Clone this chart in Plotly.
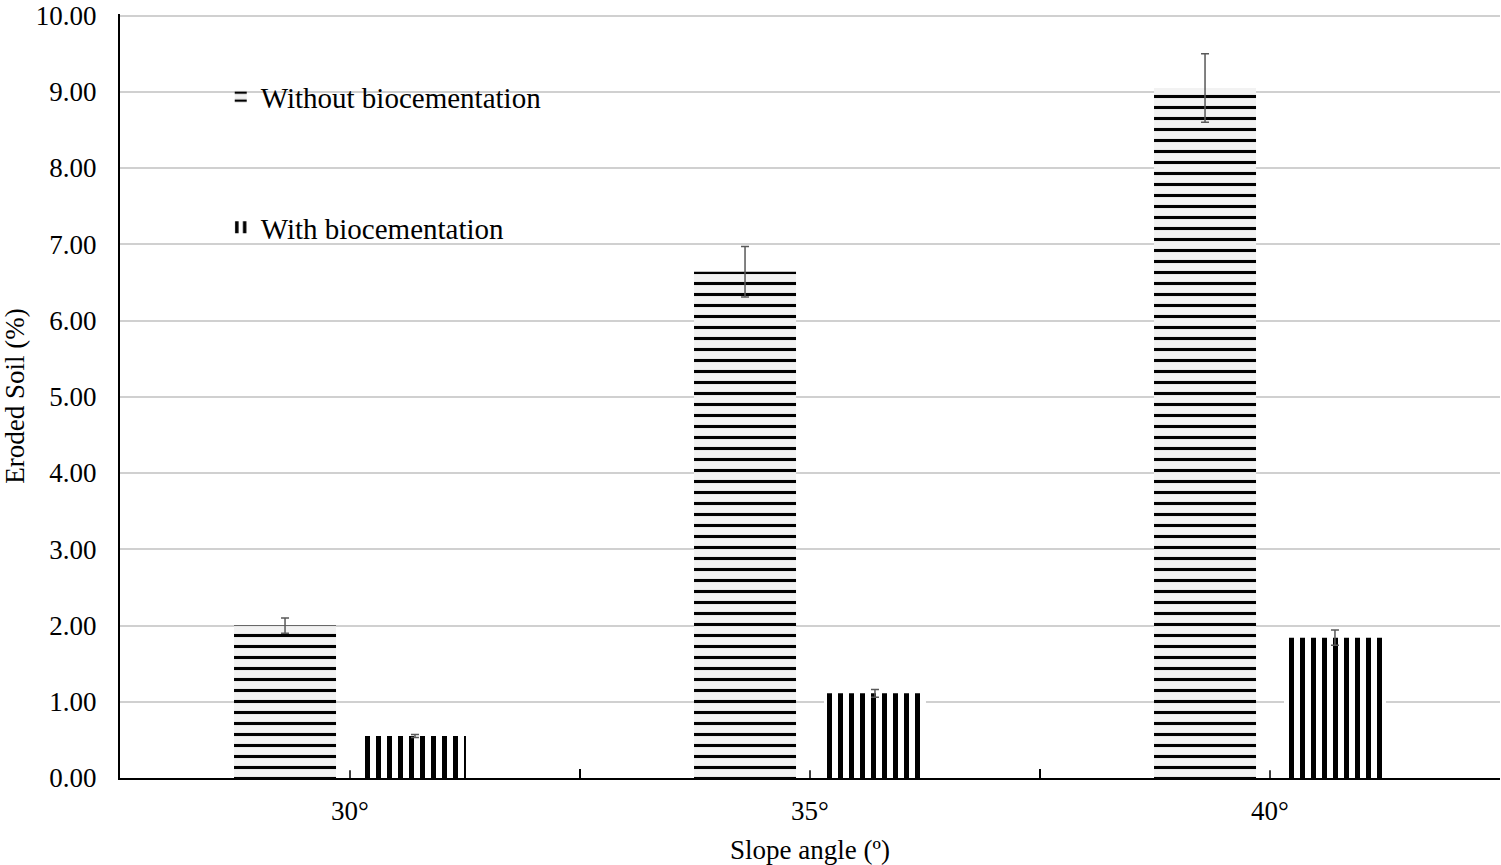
import plotly.graph_objects as go

categories = ["30°", "35°", "40°"]
without_vals = [2.00, 6.64, 9.05]
without_err = [0.10, 0.33, 0.45]
with_vals = [0.55, 1.11, 1.84]
with_err = [0.02, 0.05, 0.10]
y_ticks = [0, 1, 2, 3, 4, 5, 6, 7, 8, 9, 10]

FONT = "Liberation Serif"

fig = go.Figure()
fig.add_trace(go.Bar(
    x=categories, y=without_vals, name="Without biocementation",
    legendgroup="a",
    marker=dict(color="#f2f2f2", line=dict(width=0),
                pattern=dict(shape="-", size=11, solidity=0.28,
                             fgcolor="black", bgcolor="#f2f2f2", fillmode="replace")),
    error_y=dict(type="data", array=without_err, color="#595959", thickness=1.5, width=4),
))
fig.add_trace(go.Bar(
    x=categories, y=with_vals, name="With biocementation",
    legendgroup="b",
    marker=dict(color="white", line=dict(width=0),
                pattern=dict(shape="|", size=11, solidity=0.45,
                             fgcolor="black", bgcolor="white", fillmode="replace")),
    error_y=dict(type="data", array=with_err, color="#595959", thickness=1.5, width=4),
))

# inside ticks at category centres
for c in categories:
    fig.add_shape(type="line", xref="x", yref="paper", x0=c, x1=c, y0=0, y1=0.01,
                  line=dict(color="black", width=1.5))

fig.update_layout(
    width=1501, height=865,
    margin=dict(l=120, r=1, t=14, b=87, autoexpand=False),
    paper_bgcolor="white", plot_bgcolor="white",
    font=dict(family=FONT, size=27, color="black"),
    barmode="group", bargap=0.435, bargroupgap=0.215,
    showlegend=True,
    legend=dict(x=0.073, y=0.925, xanchor="left", yanchor="top",
                bgcolor="rgba(0,0,0,0)", tracegroupgap=90,
                font=dict(family=FONT, size=29), itemwidth=30),
    xaxis=dict(
        type="category", showline=True, linecolor="black", linewidth=2,
        ticks="inside", tickson="boundaries", ticklen=9, tickcolor="black", tickwidth=1.5,
        showgrid=False, ticklabelstandoff=8,
        title=dict(text="Slope angle (º)", font=dict(size=27), standoff=15),
    ),
    yaxis=dict(
        range=[0, 10.02], tickvals=y_ticks, tickformat=".2f",
        showline=True, linecolor="black", linewidth=2,
        showgrid=True, gridcolor="#d0d0d0", gridwidth=2,
        ticks="", ticklabelstandoff=16, zeroline=False, ticklabeloverflow="allow",
        title=dict(text="Eroded Soil (%)", font=dict(size=27), standoff=4),
    ),
)

fig.write_html("out.html", post_script="document.body.style.margin='0';",
               config={"displayModeBar": False})
